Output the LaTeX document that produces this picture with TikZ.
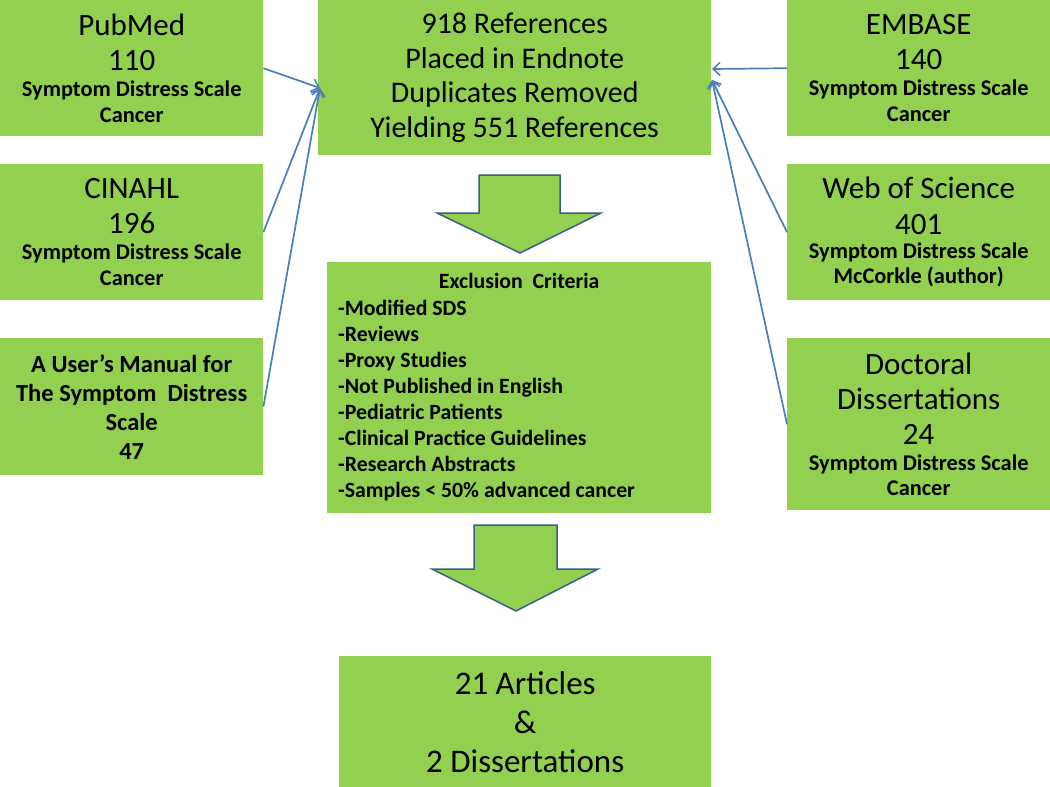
\documentclass[tikz,border=0pt]{standalone}
\usepackage{fontspec}
\setmainfont{Carlito}
\usetikzlibrary{arrows.meta}
\definecolor{boxgreen}{HTML}{92D050}
\definecolor{linkblue}{HTML}{4A7EBB}
\definecolor{arrowedge}{HTML}{385D8A}
\newcommand{\ttl}[1]{{\mdseries\fontsize{31}{35}\selectfont #1}}
\tikzset{
  gbox/.style={fill=boxgreen, draw=none, inner sep=0pt, align=center, anchor=north west,
    font=\bfseries\fontsize{22.4}{26}\selectfont},
  link/.style={draw=linkblue, line width=1.7pt, -{Straight Barb[length=7pt,width=13pt,line width=1.5pt]}},
  blockarrow/.style={fill=boxgreen, draw=arrowedge, line width=1.5pt, line join=miter}
}
\begin{document}
\begin{tikzpicture}[x=1pt,y=-1pt]
\useasboundingbox (0,0) rectangle (1050,787);
% left boxes
\node[gbox, minimum width=263pt, minimum height=136pt] (pub) at (0,0)
  {\ttl{PubMed}\\[9pt] \ttl{110}\\ Symptom Distress Scale\\ Cancer};
\node[gbox, minimum width=263pt, minimum height=136pt] (cin) at (0,164)
  {\ttl{CINAHL}\\[9pt] \ttl{196}\\ Symptom Distress Scale\\ Cancer};
\node[gbox, minimum width=263pt, minimum height=137pt, font=\bfseries\fontsize{24.5}{29}\selectfont] (man) at (0,338)
  {A User's Manual for\\ The Symptom\ \ Distress\\ Scale\\ 47};
% right boxes
\node[gbox, minimum width=263pt, minimum height=136pt] (emb) at (787,0)
  {\ttl{EMBASE}\\[9pt] \ttl{140}\\ Symptom Distress Scale\\ Cancer};
\node[gbox, minimum width=263pt, minimum height=136pt] (wos) at (787,164)
  {\ttl{Web of Science}\\[10pt] \ttl{401}\\[-2pt] Symptom Distress Scale\\[-1pt] McCorkle (author)};
\node[gbox, minimum width=263pt, minimum height=172pt] (doc) at (787,338)
  {\ttl{Doctoral}\\[9pt] \ttl{Dissertations}\\[9pt] \ttl{24}\\ Symptom Distress Scale\\[-1pt] Cancer};
% centre boxes
\node[gbox, minimum width=393pt, minimum height=155pt, font=\fontsize{30}{34.5}\selectfont] (top) at (318,0)
  {918 References\\ Placed in Endnote\\ Duplicates Removed\\ Yielding 551 References};
\node[gbox, minimum width=384pt, minimum height=251pt] (exc) at (327,262)
  {\fontsize{21.8}{26}\selectfont\begin{tabular}{@{\hspace{11pt}}p{362pt}@{\hspace{11pt}}}
   \multicolumn{1}{@{\hspace{11pt}}c@{\hspace{11pt}}}{Exclusion\ \ Criteria}\\[1pt]
   -Modified SDS\\
   -Reviews\\
   -Proxy Studies\\
   -Not Published in English\\
   -Pediatric Patients\\
   -Clinical Practice Guidelines\\
   -Research Abstracts\\
   -Samples < 50\% advanced cancer
   \end{tabular}};
\node[gbox, minimum width=372pt, minimum height=131pt, font=\fontsize{33}{39}\selectfont] (fin) at (339,656)
  {21 Articles\\ \&\\ 2 Dissertations};
% block arrows
\draw[blockarrow] (479,175) -- (560,175) -- (560,213) -- (601,213) -- (520,253)
  -- (437,213) -- (479,213) -- cycle;
\draw[blockarrow] (474,525) -- (557,525) -- (557,569) -- (598,569) -- (516,611)
  -- (432,569) -- (474,569) -- cycle;
% connectors
\coordinate (tl) at (320,88);
\coordinate (tr1) at (712,69);
\coordinate (tr2) at (712,80);
\draw[link] (pub.east) -- (tl);
\draw[link] (cin.east) -- (tl);
\draw[link] (man.east) -- (tl);
\draw[link] (emb.west) -- (tr1);
\draw[link] (wos.west) -- (tr2);
\draw[link] (doc.west) -- (tr2);
\end{tikzpicture}
\end{document}
